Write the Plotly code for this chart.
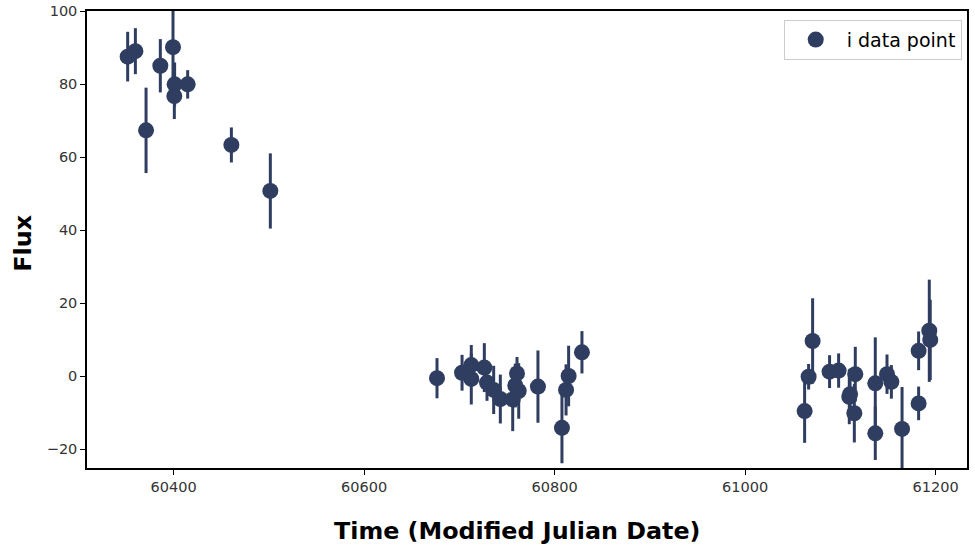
import plotly.graph_objects as go

# Time (MJD)
time_mjd = [
    60351.7, 60359.8, 60371.0, 60386.0, 60399.3, 60401.0, 60400.7, 60414.7, 60460.6, 60501.5,
    60676.5, 60702.8, 60712.5, 60712.5, 60726.2, 60729.0, 60736.0, 60743.0, 60756.0, 60758.7,
    60760.5, 60762.3, 60782.5, 60807.7, 60812.0, 60814.7, 60828.7,
    61062.5, 61066.7, 61070.9, 61088.7, 61098.2, 61109.4, 61110.2, 61115.7, 61114.7, 61136.7,
    61136.7, 61149.0, 61153.6, 61164.8, 61182.2, 61182.2, 61193.4, 61194.4,
]
flux = [
    87.5, 89.0, 67.3, 85.0, 90.1, 79.9, 76.7, 79.9, 63.3, 50.7,
    -0.6, 0.9, 3.0, -0.8, 2.3, -1.8, -3.8, -6.3, -6.4, -2.6,
    0.7, -4.1, -2.9, -14.2, -3.8, 0.0, 6.5,
    -9.6, -0.2, 9.6, 1.2, 1.5, -5.7, -5.0, 0.5, -10.2, -2.0,
    -15.7, 0.5, -1.6, -14.5, 6.9, -7.5, 12.4, 9.9,
]
flux_err = [
    6.8, 6.3, 11.7, 7.3, 10.5, 6.0, 6.3, 3.9, 4.8, 10.3,
    5.5, 4.9, 5.5, 7.0, 6.7, 5.0, 6.6, 6.7, 8.7, 6.0,
    4.5, 7.6, 9.9, 9.7, 7.0, 8.3, 5.8,
    8.7, 3.5, 11.7, 4.5, 4.7, 7.5, 7.0, 7.5, 8.0, 12.6,
    7.3, 5.4, 4.6, 11.5, 5.3, 4.6, 14.0, 11.0,
]

x_ticks = [60400, 60600, 60800, 61000, 61200]
y_ticks = [-20, 0, 20, 40, 60, 80, 100]
x_label = "Time (Modified Julian Date)"
y_label = "Flux"

fig = go.Figure()
fig.add_trace(go.Scatter(
    x=time_mjd, y=flux, mode="markers", name="i data point",
    marker=dict(size=16, color="rgb(18,35,75)", line=dict(width=0)),
    opacity=0.88,
    error_y=dict(type="data", array=flux_err, visible=True, thickness=3, width=0,
                 color="rgb(18,35,75)"),
))

axis_common = dict(
    showline=True, linecolor="black", linewidth=1.5, mirror=True,
    ticks="outside", ticklen=5, tickwidth=1, tickcolor="black",
    showgrid=False, zeroline=False, automargin=False,
    tickfont=dict(family="DejaVu Sans", size=14.5, color="#333"),
)

title_font = dict(family="DejaVu Sans", size=23.8, color="black")

fig.update_layout(
    width=975, height=546,
    margin=dict(l=87, r=8, t=11, b=78),
    plot_bgcolor="white", paper_bgcolor="white",
    showlegend=True,
    legend=dict(x=0.994, y=0.981, xanchor="right", yanchor="top", itemwidth=52,
                bgcolor="white", bordercolor="#cccccc", borderwidth=1,
                font=dict(family="DejaVu Sans", size=19, color="black")),
    xaxis=dict(range=[60309, 61233], tickvals=x_ticks, ticktext=[str(v) for v in x_ticks],
               **axis_common),
    yaxis=dict(range=[-25.2, 100], tickvals=y_ticks, ticktext=["\u221220" if v == -20 else str(v) for v in y_ticks],
               **axis_common),
    annotations=[
        dict(text=f"<b>{x_label}</b>", xref="paper", yref="paper", x=0.489, y=-0.138,
             xanchor="center", yanchor="middle", showarrow=False, font=title_font),
        dict(text=f"<b>{y_label}</b>", xref="paper", yref="paper", x=-0.0727, y=0.491,
             xanchor="center", yanchor="middle", textangle=-90, showarrow=False, font=title_font),
    ],
)

fig.write_html("out.html")
